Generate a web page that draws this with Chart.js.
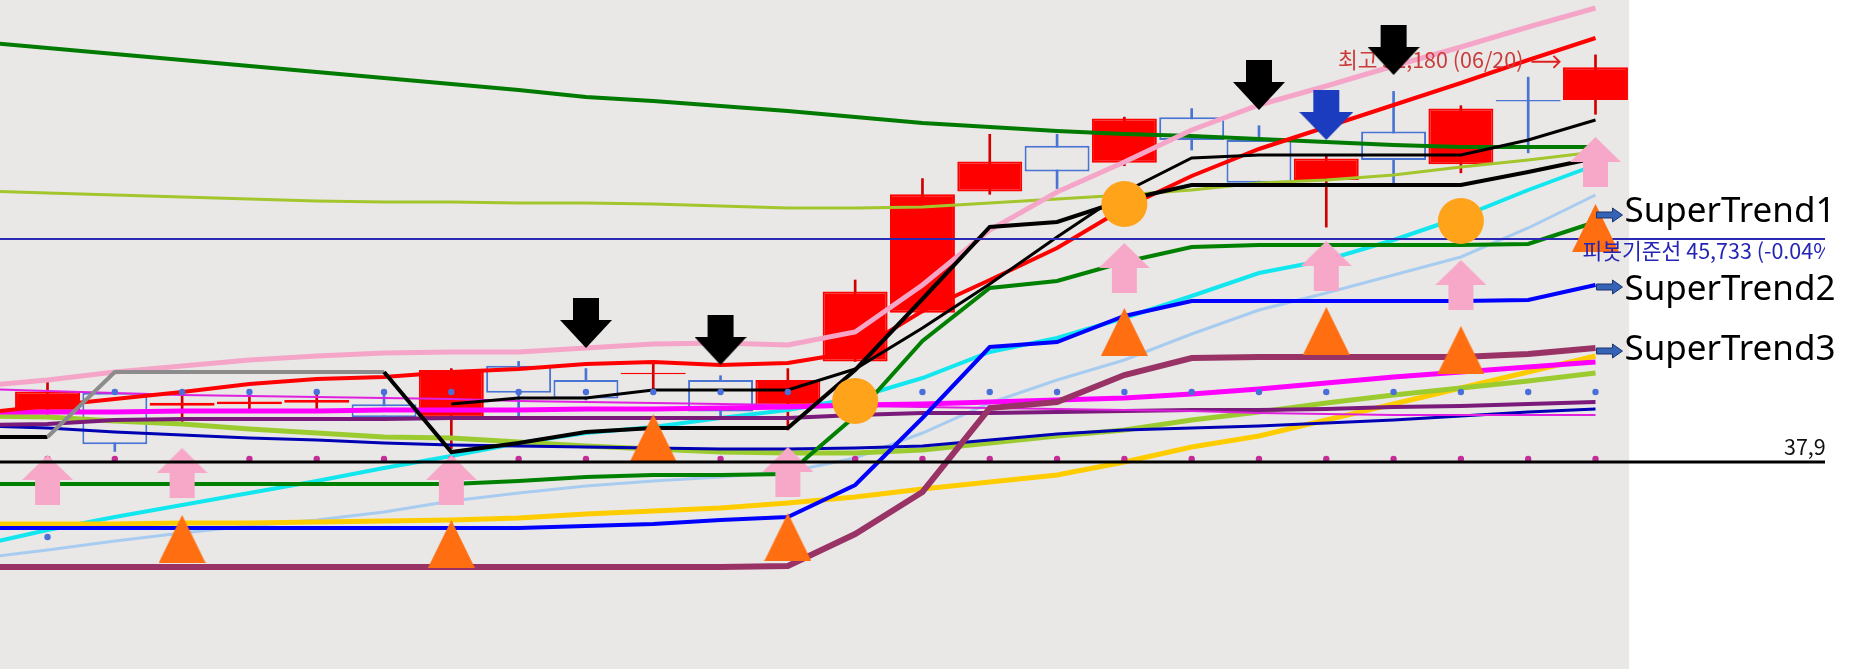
<!DOCTYPE html>
<html>
<head>
<meta charset="utf-8">
<script src="https://cdn.jsdelivr.net/npm/chart.js@4.4.1/dist/chart.umd.min.js"></script>
<style>
  html, body { margin: 0; padding: 0; background: #fff; overflow: hidden; }
  #wrap { width: 1857px; height: 669px; position: relative; }
</style>
</head>
<body>
<div id="wrap"><canvas id="chart"></canvas></div>
<script>
// sessions shown on screen, 0 = oldest, 23 = 06/20 (the day of the high)
const sessions = [0, 1, 2, 3, 4, 5, 6, 7, 8, 9, 10, 11, 12, 13, 14, 15, 16, 17, 18, 19, 20, 21, 22, 23];
const highDate = '06/20';

const openP  = [39700, 40350, 39900, 39950, 40000, 39950, 39500, 41300, 40800, 41000, 40800, 39900,
                41450, 43150, 47400, 49000, 48400, 50000, 49200, 47800, 49500, 48350, 50600, 50600];
const highP  = [40850, 40450, 40350, 40300, 40300, 40350, 41200, 41450, 41200, 41350, 40950, 41200,
                44300, 47850, 49400, 49400, 50000, 50300, 49700, 48700, 50900, 50400, 51400, 52180];
const lowP   = [39600, 38300, 39300, 39700, 39800, 39450, 38400, 39550, 40100, 40350, 39450, 39050,
                41450, 43150, 47300, 47500, 48300, 48850, 47700, 46150, 47700, 48050, 48750, 50100];
const closeP = [40400, 38550, 40000, 40050, 40100, 39500, 41150, 40350, 40150, 41050, 39700, 40800,
                43900, 47300, 48450, 48100, 49950, 49200, 47700, 48550, 48500, 50300, 50550, 51750];

// indicator lines, first value is the session before the window (-1)
const lineStart = -1;
const maLong   = [52630, 52420, 52210, 52000, 51790, 51580, 51370, 51160, 50950, 50705, 50565, 50390, 50215,
                  50005, 49795, 49655, 49515, 49410, 49340, 49235, 49130, 49025, 48955, 48955, 48955];
const maMid    = [47415, 47345, 47275, 47205, 47135, 47065, 47030, 47030, 46995, 46995, 46960, 46890, 46820,
                  46820, 46855, 46995, 47135, 47275, 47450, 47695, 47800, 47975, 48255, 48500, 48780];
const bandUp   = [40590, 40800, 41080, 41290, 41500, 41640, 41745, 41780, 41780, 41920, 42060, 42095, 42025,
                  42480, 44125, 46050, 47380, 48430, 49550, 50425, 51090, 51790, 52455, 53155, 53820];
const ma5      = [39645, 39890, 40135, 40380, 40660, 40835, 40905, 41080, 41185, 41360, 41430, 41325, 41395,
                  41780, 43215, 44300, 45420, 46820, 47940, 48885, 49655, 50425, 51195, 52000, 52770];
const trailStop = [38805, 38805, 41080, 41080, 41080, 41080, 41080, 38280, 38595, 38980, 39120, 39120, 39120,
                   41150, 43635, 46155, 46330, 47100, 47625, 47625, 47625, 47625, 47625, 48080, 48570];
const trailGrayFrom = 0, trailGrayTo = 5;
const ma10     = [null, null, null, null, null, null, null, 39960, 40170, 40170, 40450, 40450, 40450,
                  41185, 42620, 44160, 45805, 47380, 48570, 48675, 48675, 48675, 48675, 49200, 49900];
const maMagenta = [39680, 39680, 39680, 39715, 39715, 39715, 39750, 39750, 39750, 39785, 39785, 39820, 39855,
                   39925, 39960, 40030, 40100, 40170, 40310, 40485, 40695, 40905, 41080, 41255, 41430];
const maMagentaThin = [40485, 40415, 40345, 40275, 40240, 40205, 40170, 40135, 40065, 40030, 39995, 39960, 39925,
                       39890, 39855, 39820, 39785, 39750, 39715, 39645, 39610, 39575, 39575, 39575, 39575];
const maPurple = [39225, 39260, 39400, 39435, 39435, 39435, 39435, 39470, 39470, 39470, 39470, 39470, 39470,
                  39575, 39645, 39645, 39680, 39715, 39750, 39750, 39785, 39855, 39890, 39960, 40030];
const superTrend1 = [37160, 37160, 37160, 37160, 37160, 37160, 37160, 37160, 37265, 37405, 37475, 37475, 37510,
                     39540, 42165, 44020, 44265, 44930, 45455, 45525, 45525, 45525, 45525, 45560, 46330];
const superTrend2 = [35620, 35620, 35620, 35620, 35620, 35620, 35620, 35620, 35620, 35690, 35760, 35900, 36005,
                     37125, 39470, 41955, 42130, 43040, 43565, 43565, 43565, 43565, 43565, 43600, 44125];
const superTrend3 = [34255, 34255, 34255, 34255, 34255, 34255, 34255, 34255, 34255, 34255, 34255, 34255, 34290,
                     35410, 36880, 39820, 40030, 40975, 41570, 41605, 41605, 41605, 41605, 41710, 41920];
const maCyan   = [35025, 35550, 36005, 36425, 36845, 37265, 37720, 38140, 38595, 38945, 39155, 39470, 39750,
                  40170, 40870, 41780, 42270, 42970, 43740, 44545, 45000, 45700, 46505, 47450, 48325];
const maSky    = [34570, 34850, 35165, 35445, 35690, 35900, 36180, 36565, 36845, 37090, 37265, 37405, 37580,
                  38070, 38945, 39995, 40800, 41500, 42410, 43250, 43845, 44475, 45105, 46120, 47275];
const maGold   = [35760, 35760, 35760, 35795, 35795, 35830, 35865, 35900, 35970, 36110, 36215, 36320, 36495,
                  36705, 36985, 37230, 37475, 37930, 38455, 38840, 39400, 39960, 40520, 41080, 41640];
const maLime   = [39540, 39505, 39365, 39260, 39085, 38945, 38805, 38770, 38630, 38490, 38385, 38280, 38245,
                  38245, 38350, 38595, 38840, 39050, 39400, 39680, 39995, 40275, 40520, 40765, 41045];
const maNavy   = [39190, 39120, 38980, 38875, 38770, 38700, 38595, 38525, 38490, 38455, 38420, 38385, 38385,
                  38420, 38490, 38700, 38910, 39050, 39120, 39190, 39295, 39400, 39540, 39680, 39785];

// dotted rows
const dotBlue = [35305, 40380, 40380, 40380, 40380, 40380, 40380, 40380, 40380, 40380, 40380, 40380,
                 40380, 40380, 40380, 40380, 40380, 40380, 40380, 40380, 40380, 40380, 40380, 40380];
const dotPink = [38035, 38035, 38035, 38035, 38035, 38035, 38035, 38035, 38035, 38035, 38035, 38035,
                 38035, 38035, 38035, 38035, 38035, 38035, 38035, 38035, 38035, 38035, 38035, 38035];

// signals
const buyArrowAt = [0, 2, 6, 11, 16, 19, 21, 23];
const buyArrowY  = [37300, 37545, 37300, 37580, 44720, 44790, 44125, 48430];
const triangleAt = [2, 6, 9, 11, 16, 19, 21, 23];
const triangleY  = [35235, 35060, 38770, 35305, 42480, 42515, 41850, 46120];
const circleAt   = [12, 16, 21];
const circleY    = [40065, 46960, 46365];
const sellArrowAt = [8, 10, 18, 20];
const sellArrowY  = [42795, 42200, 51125, 52350];
const blueArrowAt = [19];
const blueArrowY  = [50075];

// reference levels
const pivotLevel = 45733;
const pivotText = '피봇기준선 45,733 (-0.04%)';
const baseLevel = 37930;
const baseText = '37,930';

const xMin = -0.706, xMax = 26.41;
const yMin = 30685, yMax = 54100;

const BG = '#e9e8e6';
const RED = '#ff0000';
const CANDLE_BLUE = '#4a74d4';

function toPoints(values, start) {
  return values.map((v, i) => ({ x: start + i, y: v }));
}
function pick(at, ys) {
  return at.map((s, i) => ({ x: s, y: ys[i] }));
}

function makeArrow(dir, w, h, shaftW, shaftH, color) {
  const c = document.createElement('canvas');
  c.width = w; c.height = h;
  const g = c.getContext('2d');
  g.fillStyle = color;
  const sx = (w - shaftW) / 2;
  if (dir === 'down') {
    g.fillRect(sx, 0, shaftW, shaftH + 1);
    g.beginPath();
    g.moveTo(0, shaftH); g.lineTo(w, shaftH); g.lineTo(w / 2, h);
  } else {
    g.fillRect(sx, h - shaftH - 1, shaftW, shaftH + 1);
    g.beginPath();
    g.moveTo(0, h - shaftH); g.lineTo(w / 2, 0); g.lineTo(w, h - shaftH);
  }
  g.closePath();
  g.fill();
  return c;
}
function makeTriangle(w, h, color) {
  const c = document.createElement('canvas');
  c.width = w; c.height = h;
  const g = c.getContext('2d');
  g.fillStyle = color;
  g.beginPath();
  g.moveTo(0, h); g.lineTo(w / 2, 0); g.lineTo(w, h);
  g.closePath();
  g.fill();
  return c;
}

const pinkArrow = makeArrow('up', 51, 50, 25, 25, '#f7a8c8');
const blackArrow = makeArrow('down', 52, 50, 26, 22, '#000000');
const blueArrow = makeArrow('down', 54, 50, 26, 22, '#1c3cbf');
const orangeTri = makeTriangle(47, 48, '#ff6e10');

const isUp = sessions.map(i => closeP[i] >= openP[i]);

function line(label, values, color, width, extra) {
  return Object.assign({
    type: 'line', label, data: toPoints(values, lineStart),
    borderColor: color, borderWidth: width, pointRadius: 0, fill: false, tension: 0
  }, extra || {});
}

const lineSets = [
  line('maLong', maLong, '#007a00', 4),
  line('maMid', maMid, '#a2c62c', 3),
  line('maSky', maSky, '#a8ccf0', 3),
  line('maCyan', maCyan, '#12e6ee', 4),
  line('maGold', maGold, '#ffcc00', 5),
  line('maLime', maLime, '#9ccb30', 5),
  line('maNavy', maNavy, '#0000b4', 3),
  line('maPurple', maPurple, '#7a1a7a', 4),
  line('maMagentaThin', maMagentaThin, '#e020e0', 2),
  line('maMagenta', maMagenta, '#ff00ff', 5),
  line('superTrend3', superTrend3, '#993366', 6),
  line('superTrend2', superTrend2, '#0000ff', 4),
  line('superTrend1', superTrend1, '#008000', 4),
  line('bandUp', bandUp, '#f5a6c8', 5),
  line('ma5', ma5, '#ff0000', 4),
  line('ma10', ma10, '#000000', 3),
  line('trailStop', trailStop, '#000000', 4, {
    segment: {
      borderColor: ctx => {
        const s = ctx.p0DataIndex + lineStart;
        return (s >= trailGrayFrom && s < trailGrayTo) ? '#8c8c8c' : '#000000';
      }
    }
  }),
  { type: 'line', label: 'pivot', data: [{ x: xMin, y: pivotLevel }, { x: xMax, y: pivotLevel }],
    borderColor: '#2a2ab4', borderWidth: 2, pointRadius: 0 }
];
lineSets.forEach((d, i) => { d.order = 500 - i; });

const datasets = [
  { type: 'bar', label: 'wick', order: 1001, grouped: false,
    data: sessions.map(i => ({ x: i, y: [lowP[i], highP[i]] })),
    backgroundColor: sessions.map(i => isUp[i] ? '#d00000' : CANDLE_BLUE),
    barThickness: 2 },
  { type: 'bar', label: 'body', order: 1000, grouped: false,
    data: sessions.map(i => ({ x: i, y: [openP[i], closeP[i]] })),
    backgroundColor: sessions.map(i => isUp[i] ? RED : BG),
    borderColor: sessions.map(i => isUp[i] ? RED : CANDLE_BLUE),
    borderWidth: 2, borderSkipped: false, barPercentage: 0.965, categoryPercentage: 1 },
  ...lineSets,
  { type: 'line', label: 'dotBlue', order: 10, showLine: false,
    data: toPoints(dotBlue, 0), pointRadius: 3.2, pointBackgroundColor: '#4a6fd8', pointBorderWidth: 0 },
  { type: 'line', label: 'dotPink', order: 9, showLine: false,
    data: toPoints(dotPink, 0), pointRadius: 3.2, pointBackgroundColor: '#c42c98', pointBorderWidth: 0 },
  { type: 'line', label: 'circles', order: 8, showLine: false,
    data: pick(circleAt, circleY), pointStyle: 'circle', pointRadius: 23,
    pointBackgroundColor: '#ffa31a', pointBorderWidth: 0 },
  { type: 'line', label: 'triangles', order: 7, showLine: false,
    data: pick(triangleAt, triangleY), pointStyle: orangeTri, pointRadius: 24 },
  { type: 'line', label: 'buyArrows', order: 6, showLine: false,
    data: pick(buyArrowAt, buyArrowY), pointStyle: pinkArrow, pointRadius: 25 },
  { type: 'line', label: 'sellArrows', order: 5, showLine: false,
    data: pick(sellArrowAt, sellArrowY), pointStyle: blackArrow, pointRadius: 25 },
  { type: 'line', label: 'blueArrows', order: 4, showLine: false,
    data: pick(blueArrowAt, blueArrowY), pointStyle: blueArrow, pointRadius: 25 },
  { type: 'line', label: 'base', order: 1,
    data: [{ x: xMin, y: baseLevel }, { x: xMax, y: baseLevel }],
    borderColor: '#000000', borderWidth: 3, pointRadius: 0 }
];

const stLabels = [
  { name: 'superTrend1', text: 'SuperTrend1', arrowDy: -7, textDy: 0 },
  { name: 'superTrend2', text: 'SuperTrend2', arrowDy: 2, textDy: 15 },
  { name: 'superTrend3', text: 'SuperTrend3', arrowDy: 3, textDy: 12 }
];

function drawSmallArrow(ctx, x0, y) {
  ctx.save();
  ctx.fillStyle = '#3563b5';
  ctx.strokeStyle = '#1d3370';
  ctx.lineWidth = 1;
  ctx.beginPath();
  ctx.moveTo(x0, y - 3);
  ctx.lineTo(x0 + 16, y - 3);
  ctx.lineTo(x0 + 16, y - 7);
  ctx.lineTo(x0 + 26, y);
  ctx.lineTo(x0 + 16, y + 7);
  ctx.lineTo(x0 + 16, y + 3);
  ctx.lineTo(x0, y + 3);
  ctx.closePath();
  ctx.fill();
  ctx.stroke();
  ctx.restore();
}

const overlay = {
  id: 'overlay',
  beforeDraw(chart) {
    const { ctx, width, height } = chart;
    const x = chart.scales.x;
    ctx.save();
    ctx.fillStyle = '#ffffff';
    ctx.fillRect(0, 0, width, height);
    ctx.fillStyle = BG;
    ctx.fillRect(0, 0, x.getPixelForValue(sessions[sessions.length - 1] + 0.5), height);
    ctx.restore();
  },
  beforeDatasetDraw(chart, args) {
    if (chart.data.datasets[args.index].label !== 'sellArrows') return;
    const { ctx, chartArea } = chart;
    const x = chart.scales.x, y = chart.scales.y;
    const font = '21.5px "Noto Sans CJK KR", "Noto Sans", sans-serif';

    // highest price label
    let hi = 0;
    sessions.forEach(i => { if (highP[i] > highP[hi]) hi = i; });
    const hx = x.getPixelForValue(hi), hy = y.getPixelForValue(highP[hi]);
    const hiText = '최고 ' + highP[hi].toLocaleString('en-US') + ' (' + highDate + ')';
    ctx.save();
    ctx.font = font;
    ctx.fillStyle = '#cc3b3b';
    ctx.textAlign = 'right';
    ctx.textBaseline = 'middle';
    ctx.fillText(hiText, hx - 72, hy + 5);
    ctx.strokeStyle = '#e02020';
    ctx.lineWidth = 2;
    ctx.beginPath();
    ctx.moveTo(hx - 64, hy + 7);
    ctx.lineTo(hx - 36, hy + 7);
    ctx.moveTo(hx - 42, hy + 1);
    ctx.lineTo(hx - 36, hy + 7);
    ctx.lineTo(hx - 42, hy + 13);
    ctx.stroke();
    ctx.restore();

    // level labels, cut at the chart's right edge
    ctx.save();
    ctx.beginPath();
    ctx.rect(0, 0, chartArea.right, chart.height);
    ctx.clip();
    ctx.font = font;
    ctx.textAlign = 'left';
    ctx.textBaseline = 'middle';
    ctx.fillStyle = '#2525b5';
    ctx.fillText(pivotText, x.getPixelForValue(sessions[sessions.length - 1]) - 13, y.getPixelForValue(pivotLevel) + 12);
    ctx.fillStyle = '#111111';
    ctx.fillText(baseText, chartArea.right - 41, y.getPixelForValue(baseLevel) - 15);
    ctx.restore();
  },
  afterDatasetsDraw(chart) {
    const ctx = chart.ctx;
    stLabels.forEach(l => {
      const idx = chart.data.datasets.findIndex(d => d.label === l.name);
      const pts = chart.getDatasetMeta(idx).data;
      const p = pts[pts.length - 1];
      drawSmallArrow(ctx, p.x + 1, p.y + l.arrowDy);
      ctx.save();
      ctx.font = '35px "Noto Sans", sans-serif';
      ctx.fillStyle = '#000000';
      ctx.textAlign = 'left';
      ctx.textBaseline = 'alphabetic';
      ctx.fillText(l.text, p.x + 29, p.y + l.textDy);
      ctx.restore();
    });
  }
};

new Chart(document.getElementById('chart'), {
  type: 'line',
  data: { datasets },
  options: {
    responsive: true,
    maintainAspectRatio: false,
    animation: false,
    events: [],
    layout: { autoPadding: false, padding: { left: 0, right: 32, top: 0, bottom: 0 } },
    plugins: { legend: { display: false }, tooltip: { enabled: false } },
    elements: { point: { radius: 0 } },
    scales: {
      x: { type: 'linear', min: xMin, max: xMax, offset: false, display: false },
      y: { type: 'linear', min: yMin, max: yMax, beginAtZero: false, display: false }
    }
  },
  plugins: [overlay]
});
</script>
</body>
</html>
